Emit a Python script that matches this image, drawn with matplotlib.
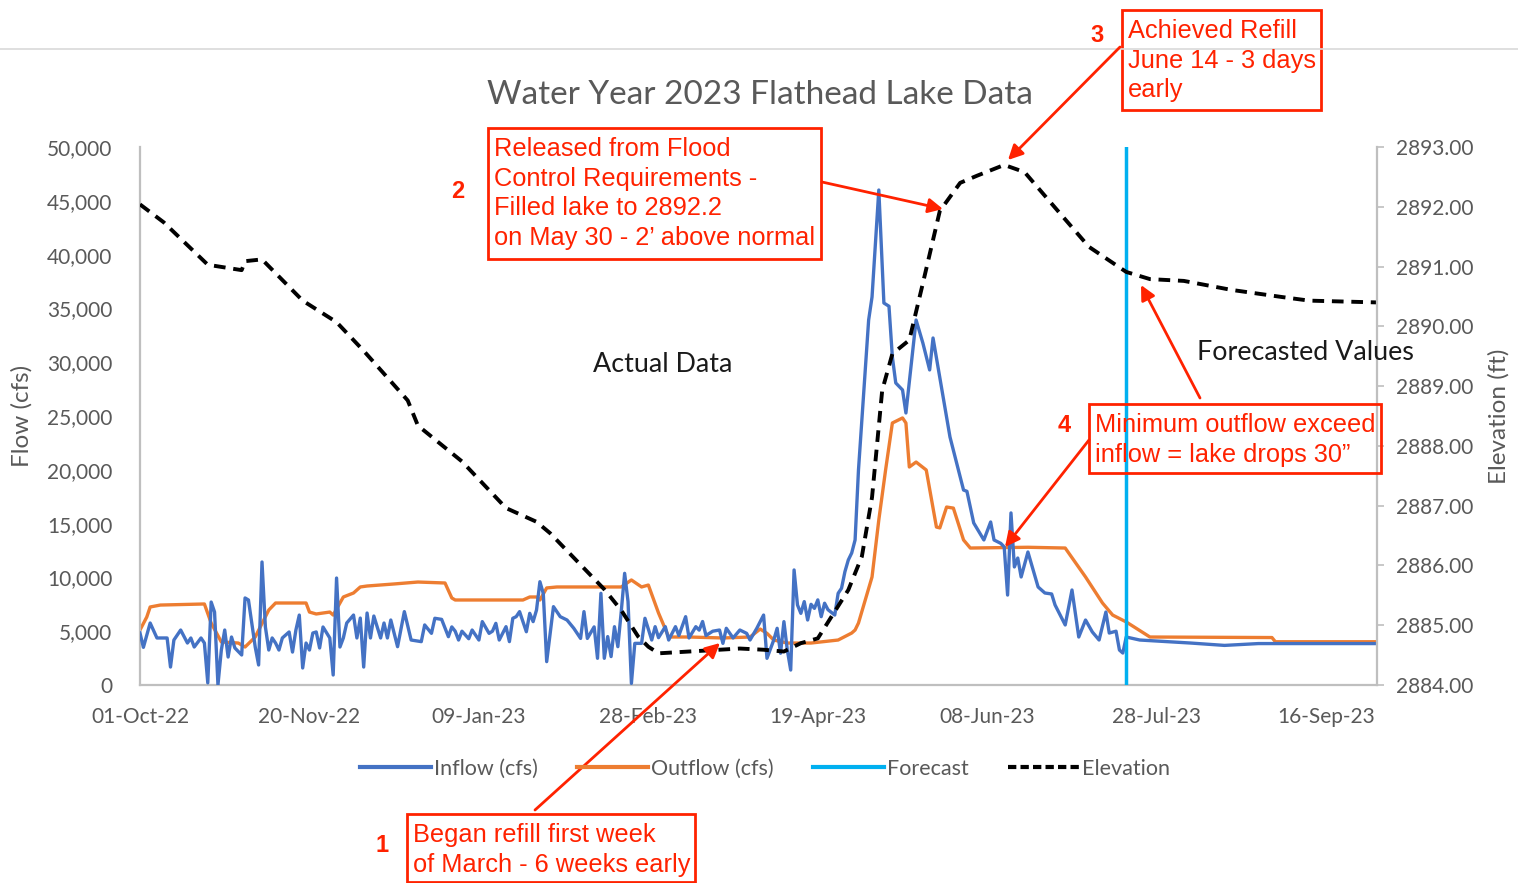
import numpy as np
import matplotlib
matplotlib.use("Agg")
import matplotlib.pyplot as plt
import matplotlib.dates as mdates
from matplotlib.lines import Line2D
from matplotlib.patches import Rectangle

# --------------------
# data (days from 01-Oct-22)
# --------------------

inflow_day = [0, 1, 3, 5, 8, 9, 10, 12, 14, 15, 16, 18, 19, 20, 21, 22, 23, 24, 25, 26,
              27, 28, 30, 31, 32, 34, 35, 36, 37, 38, 39, 40, 41, 42, 44, 45, 46, 47, 48, 49,
              50, 51, 52, 53, 54, 56, 57, 58, 59, 60, 61, 63, 64, 65, 66, 67, 68, 69, 71, 72,
              73, 74, 76, 78, 80, 83, 84, 86, 87, 89, 91, 92, 93, 94, 95, 97, 98, 100, 101, 103,
              104, 105, 106, 108, 109, 110, 111, 112, 114, 115, 116, 117, 118, 119, 120, 122, 124, 126, 128, 130,
              131, 132, 134, 135, 136, 137, 138, 139, 140, 141, 142, 143, 144, 145, 146, 148, 149, 151, 152, 153,
              155, 156, 158, 159, 161, 162, 164, 165, 166, 167, 169, 171, 172, 173, 175, 177, 179, 180, 182, 184,
              185, 187, 188, 189, 190, 191, 192, 193, 194, 195, 196, 197, 198, 199, 200, 201, 202, 203, 205, 206,
              207, 208, 209, 210, 211, 212, 214, 215, 216, 218, 219.5, 221, 222, 223, 225, 226, 229, 231, 233, 234,
              239, 243, 244, 246, 249, 251, 252, 254, 255, 256, 257, 258, 259, 260, 262, 265, 267, 269, 270, 273,
              275, 277, 279, 281, 283, 285, 286, 288, 289, 290, 291, 295, 300, 310, 320, 330, 345, 365]
inflow_cfs = [4830, 3500, 5760, 4370, 4370, 1670, 4180, 5110, 3900, 4370, 3530, 4370, 3900, 200, 7710, 6780, 0, 3250, 5110, 2600,
              4460, 3440, 2790, 8090, 7900, 3530, 1860, 11430, 5390, 3250, 4370, 3900, 3250, 4370, 4930, 3060, 5110, 6500, 1580, 3900,
              3250, 4830, 4930, 3440, 5390, 4370, 930, 9940, 3530, 4370, 5760, 6500, 4370, 6220, 1670, 6690, 4370, 6410, 4370, 5760,
              4370, 6040, 3560, 6820, 4180, 4030, 5580, 4800, 6200, 6100, 4490, 5400, 5000, 4180, 5000, 4300, 5110, 4180, 5890, 4800,
              5000, 5730, 4180, 5420, 4030, 6200, 6350, 6820, 4950, 6660, 5890, 6970, 9600, 8500, 2170, 7280, 6350, 6040, 5270, 4330,
              6820, 4330, 5400, 2480, 8520, 2480, 4500, 2640, 5420, 3560, 6820, 10380, 7760, 150, 3870, 3870, 6200, 4180, 5420, 4400,
              5420, 4180, 5420, 4600, 6350, 4370, 5420, 5100, 5900, 4600, 5000, 5110, 3870, 5270, 4370, 5110, 4800, 4180, 5270, 6500,
              2480, 4180, 5270, 2950, 5890, 3250, 1390, 10690, 7440, 6660, 7750, 6040, 7500, 7120, 7910, 6350, 7600, 7000, 6500, 8520,
              8990, 10530, 11620, 12270, 13480, 19980, 29280, 33920, 36060, 46000, 35500, 35200, 30480, 28070, 27420, 25280, 33920, 31780, 29280, 32250,
              23050, 18120, 18000, 15060, 13480, 15150, 13480, 13160, 12830, 8360, 15990, 10970, 11800, 10040, 12360, 9110, 8550, 8460, 7440, 5580,
              8830, 4460, 6040, 4930, 4180, 6780, 4830, 5000, 3250, 2970, 4460, 4180, 4090, 3900, 3680, 3850, 3850, 3850]

outflow_day = [0, 2, 3, 6, 19, 21, 24, 29, 31, 34, 38, 40, 49, 50, 52, 56, 57, 59, 60, 63,
               65, 67, 75, 82, 90, 92, 93, 113, 115, 117, 118, 120, 123, 142, 145, 148, 150, 153, 156, 162,
               172, 180, 183, 185, 187, 191, 198, 206, 210, 211, 212, 214, 216, 218, 220, 222, 225, 226, 227, 229,
               232, 235, 236, 238, 240, 243, 245, 262, 273, 279, 284, 287, 291, 298, 334, 335, 365]
outflow_cfs = [5110, 6320, 7250, 7430, 7530, 5760, 4000, 3900, 3530, 4460, 6970, 7620, 7620, 6780, 6600, 6780, 6500, 7620, 8180, 8550,
               9110, 9200, 9390, 9570, 9480, 8090, 7900, 7900, 8180, 8180, 7900, 9020, 9110, 9110, 9760, 9110, 9290, 6690, 4460, 4460,
               4370, 4460, 5200, 4800, 4180, 3900, 3900, 4180, 4830, 5110, 5760, 7900, 10040, 15340, 19980, 24350, 24820, 24350, 20260, 20720,
               19980, 14680, 14600, 16540, 16440, 13480, 12730, 12800, 12730, 10040, 7620, 6500, 5860, 4460, 4410, 4020, 4020]

elev_day = [0, 7, 20, 30, 31, 36, 48, 58, 66, 79, 82, 95, 108, 117, 121, 137, 142, 147, 150, 153,
            177, 184, 190, 195, 200, 205, 209, 213, 216, 219, 222, 227, 231, 236, 242, 247, 255, 261, 271, 280,
            291, 298, 308, 322, 337, 345, 365]
elev_ft = [2892.04, 2891.74, 2891.03, 2890.94, 2891.09, 2891.12, 2890.43, 2890.07, 2889.59, 2888.76,
           2888.34, 2887.74, 2886.96, 2886.73, 2886.54, 2885.60, 2885.25, 2884.81, 2884.64, 2884.53,
           2884.61, 2884.59, 2884.56, 2884.70, 2884.78, 2885.23, 2885.59, 2886.15, 2887.14, 2888.93,
           2889.54, 2889.77, 2890.72, 2891.93, 2892.40, 2892.52, 2892.70, 2892.58, 2891.92, 2891.33,
           2890.91, 2890.79, 2890.76, 2890.61, 2890.49, 2890.43, 2890.40]

forecast_day = 291
flow_ticks = [0, 5000, 10000, 15000, 20000, 25000, 30000, 35000, 40000, 45000, 50000]
elev_ticks = [2884, 2885, 2886, 2887, 2888, 2889, 2890, 2891, 2892, 2893]

start = np.datetime64("2022-10-01")


def to_dates(days):
    return start + (np.array(days) * 24 * 3600).astype("timedelta64[s]")


# --------------------
# style
# --------------------

W, H = 1518, 883
GRAY = "#595959"
AXGRAY = "#BFBFBF"
RED = "#FF2200"
BLUE = "#4472C4"
ORANGE = "#ED7D31"
SKY = "#00B0F0"
CAL = ["Lato", "DejaVu Sans"]
ARIAL = ["Liberation Sans", "DejaVu Sans"]

fig = plt.figure(figsize=(W / 100, H / 100), dpi=100)
ax = fig.add_axes([140 / W, 1 - 685 / H, 1237 / W, 538 / H])
ax2 = ax.twinx()

ax.plot(to_dates(inflow_day), inflow_cfs, color=BLUE, lw=2.4, zorder=3)
ax.plot(to_dates(outflow_day), outflow_cfs, color=ORANGE, lw=2.4, zorder=2)
ax.plot(to_dates([forecast_day, forecast_day]), [0, 50000], color=SKY, lw=2.5, zorder=4)
ax2.plot(to_dates(elev_day), elev_ft, color="black", lw=2.8, ls=(0, (3, 2)))

ax.set_xlim(start, start + np.timedelta64(365, "D"))
ax.set_ylim(0, 50000)
ax2.set_ylim(2884, 2893)

ax.set_yticks(flow_ticks)
ax.set_yticklabels([f"{v:,}" for v in flow_ticks])
ax2.set_yticks(elev_ticks)
ax2.set_yticklabels([f"{v:.2f}" for v in elev_ticks])
ax.set_xticks(to_dates(np.arange(0, 351, 50)))
ax.xaxis.set_major_formatter(mdates.DateFormatter("%d-%b-%y"))

for a in (ax, ax2):
    for s in a.spines.values():
        s.set_visible(False)
ax.spines["left"].set_visible(True)
ax.spines["bottom"].set_visible(True)
ax2.spines["right"].set_visible(True)
for s in (ax.spines["left"], ax.spines["bottom"], ax2.spines["right"]):
    s.set_color(AXGRAY)
    s.set_linewidth(1.6)

ax.tick_params(axis="y", length=0, pad=20, labelsize=15, labelcolor=GRAY)
ax.tick_params(axis="x", length=0, pad=16, labelsize=15, labelcolor=GRAY)
ax2.tick_params(axis="y", length=5, width=1.2, color=AXGRAY, pad=9, labelsize=15, labelcolor=GRAY)
for lab in ax.get_xticklabels() + ax.get_yticklabels() + ax2.get_yticklabels():
    lab.set_family(CAL)

ax.set_ylabel("Flow (cfs)", family=CAL, fontsize=17.5, color=GRAY, labelpad=10)
ax2.set_ylabel("Elevation (ft)", family=CAL, fontsize=17.5, color=GRAY, labelpad=10)

fig.text(760 / W, 1 - 95 / H, "Water Year 2023 Flathead Lake Data", family=CAL,
         fontsize=24, color=GRAY, ha="center", va="center")

handles = [
    Line2D([], [], color=BLUE, lw=3),
    Line2D([], [], color=ORANGE, lw=3),
    Line2D([], [], color=SKY, lw=3),
    Line2D([], [], color="black", lw=3, ls=(0, (2, 1))),
]
fig.legend(handles, ["Inflow (cfs)", "Outflow (cfs)", "Forecast", "Elevation"],
           loc="center", bbox_to_anchor=(765 / W, 1 - 769 / H), ncol=4, frameon=False,
           prop={"family": CAL, "size": 15.5}, labelcolor=GRAY, handlelength=3.3,
           handletextpad=0.15, columnspacing=1.8)

# --------------------
# annotations (pixel overlay)
# --------------------

ov = fig.add_axes([0, 0, 1, 1])
ov.set_xlim(0, W)
ov.set_ylim(H, 0)
ov.axis("off")
ov.patch.set_alpha(0)

ov.plot([0, W], [49, 49], color="#D9D9D9", lw=1.2)

ov.text(663, 364, "Actual Data", family=CAL, fontsize=19.4, color="#1A1A1A", ha="center", va="center")
ov.text(1305, 353, "Forecasted Values", family=CAL, fontsize=19.4, color="#1A1A1A", ha="center", va="center")

boxes = [
    (407, 814, 288, 68, "Began refill first week\nof March - 6 weeks early", "1", 382, 846),
    (488, 128, 333, 131, "Released from Flood\nControl Requirements -\nFilled lake to 2892.2\non May 30 - 2\u2019 above normal", "2", 458, 192),
    (1122, 10, 199, 100, "Achieved Refill\nJune 14 - 3 days\nearly", "3", 1097, 35),
    (1089, 404, 292, 69, "Minimum outflow exceed\ninflow = lake drops 30\u201d", "4", 1064, 425),
]
for bx, by, bw, bh, txt, num, nx, ny in boxes:
    ov.add_patch(Rectangle((bx, by), bw, bh, fill=False, edgecolor=RED, lw=2))
    ov.text(bx + 6, by + 9, txt, family=ARIAL, fontsize=18.3, color=RED, ha="left", va="top",
            linespacing=1.3)
    ov.text(nx, ny, num, family=ARIAL, fontsize=17, fontweight="bold", color=RED,
            ha="center", va="center")

arrows = [
    ((535, 810), (720, 643)),
    ((822, 182), (943, 209)),
    ((1120, 47), (1008, 160)),
    ((1089, 440), (1005, 547)),
    ((1200, 398), (1141, 285)),
]
for tail, tip in arrows:
    ov.annotate("", xy=tip, xytext=tail,
                arrowprops=dict(arrowstyle="-|>", color=RED, lw=2, mutation_scale=22,
                                shrinkA=0, shrinkB=0))

plt.savefig("out.png", dpi=100)
